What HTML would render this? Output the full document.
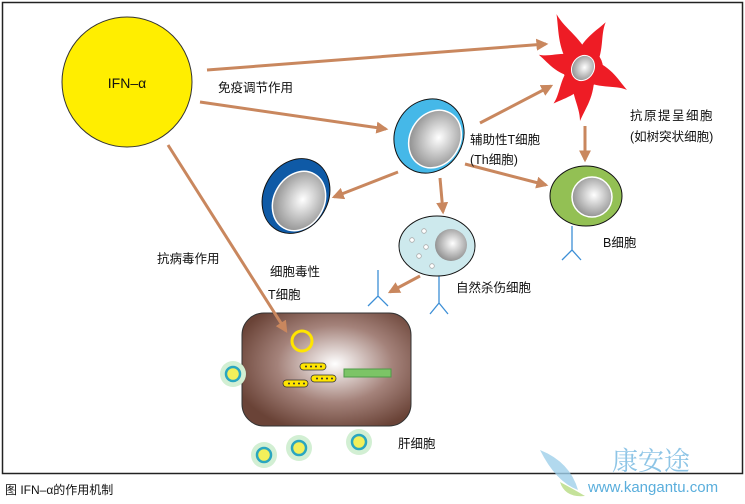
<!DOCTYPE html>
<html><head><meta charset="utf-8"><style>
body{margin:0;background:#fff;width:745px;height:499px;overflow:hidden}
text{font-family:"Liberation Sans","Noto Sans CJK SC",sans-serif;font-size:12.5px;fill:#111}
</style></head><body>
<svg width="745" height="499" viewBox="0 0 745 499">
<defs>
<radialGradient id="nuc" cx="0.55" cy="0.45" r="0.6"><stop offset="0" stop-color="#fff"/><stop offset="1" stop-color="#8a8a8a"/></radialGradient>
<radialGradient id="liv" cx="0.55" cy="0.45" r="0.62"><stop offset="0" stop-color="#fff"/><stop offset="0.55" stop-color="#a4827a"/><stop offset="1" stop-color="#6a4337"/></radialGradient>
<marker id="ah" viewBox="0 0 10 10" refX="8" refY="5" markerWidth="4" markerHeight="4" orient="auto"><path d="M0,0L10,5L0,10z" fill="#c9875e"/></marker>
</defs>
<rect x="2.5" y="2.5" width="740" height="471" fill="none" stroke="#222" stroke-width="1.5"/>
<g stroke="#c9875e" stroke-width="3" fill="none" marker-end="url(#ah)">
<line x1="207" y1="70" x2="546" y2="44"/>
<line x1="200" y1="102" x2="386" y2="129"/>
<line x1="398" y1="172" x2="334" y2="197"/>
<line x1="480" y1="123" x2="551" y2="86"/>
<line x1="585" y1="126" x2="585" y2="160"/>
<line x1="465" y1="164" x2="546" y2="185"/>
<line x1="440" y1="178" x2="443" y2="212"/>
<line x1="420" y1="276" x2="390" y2="292"/>
</g>
<circle cx="127" cy="82" r="65" fill="#ffee00" stroke="#333" stroke-width="1"/>
<text x="127" y="88" text-anchor="middle" style="font-size:14px">IFN–α</text>
<!-- Th -->
<ellipse cx="429" cy="136" rx="34" ry="38" transform="rotate(30 429 136)" fill="#45b8e8" stroke="#111"/>
<ellipse cx="435" cy="139" rx="25" ry="30" transform="rotate(30 435 139)" fill="url(#nuc)" stroke="#fff" stroke-width="1.5"/>
<!-- CTL -->
<ellipse cx="296" cy="196" rx="32" ry="39" transform="rotate(30 296 196)" fill="#0f5aa6" stroke="#111"/>
<ellipse cx="299" cy="201" rx="25" ry="31" transform="rotate(30 299 201)" fill="url(#nuc)" stroke="#fff" stroke-width="1.5"/>
<!-- star -->
<g transform="translate(583,68)" fill="#ee1c25">
<circle r="20"/>
<path transform="rotate(-29)" d="M-11,0 C-13,-30 -4,-42 3,-60 C3,-42 14,-28 11,0Z"/>
<path transform="rotate(23)" d="M-11,0 C-13,-26 -4,-36 3,-51 C3,-36 14,-24 11,0Z"/>
<path transform="rotate(113)" d="M-11,0 C-13,-25 -4,-35 3,-49 C3,-35 14,-23 11,0Z"/>
<path transform="rotate(180)" d="M-11,0 C-13,-27 -4,-37 3,-53 C3,-37 14,-25 11,0Z"/>
<path transform="rotate(216)" d="M-11,0 C-13,-24 -4,-33 3,-46 C3,-33 14,-22 11,0Z"/>
<path transform="rotate(-77)" d="M-11,0 C-13,-24 -4,-33 3,-46 C3,-33 14,-22 11,0Z"/>
<ellipse cx="0" cy="0" rx="11" ry="13" transform="rotate(30)" fill="url(#nuc)" stroke="#fff"/>
</g>
<!-- B -->
<ellipse cx="586" cy="196" rx="36" ry="30" fill="#93c054" stroke="#111"/>
<circle cx="592" cy="197" r="20" fill="url(#nuc)" stroke="#fff" stroke-width="1.5"/>
<g stroke="#3d8fd6" stroke-width="1.3" fill="none">
<path d="M572,226V250M562,260L572,250L581,260"/>
<path d="M439,273V303M430,314L439,303L448,314"/>
<path d="M378,270V296M368,306L378,296L388,306"/>
</g>
<!-- NK -->
<ellipse cx="437" cy="246" rx="38" ry="30" fill="#cde9ed" stroke="#111"/>
<circle cx="451" cy="245" r="16" fill="url(#nuc)"/>
<g fill="#fff" stroke="#aaa" stroke-width="0.8">
<circle cx="424" cy="231" r="2.3"/><circle cx="412" cy="240" r="2.3"/><circle cx="426" cy="247" r="2.3"/><circle cx="419" cy="256" r="2.3"/><circle cx="432" cy="266" r="2.3"/>
</g>
<!-- liver -->
<rect x="242" y="313" width="169" height="113" rx="22" fill="url(#liv)" stroke="#333"/>
<line x1="168" y1="145" x2="286" y2="331" stroke="#c9875e" stroke-width="3" marker-end="url(#ah)"/>
<circle cx="302" cy="341" r="10" fill="none" stroke="#ffe500" stroke-width="3"/>
<g fill="#ffe500" stroke="#333" stroke-width="0.8">
<rect x="300" y="363" width="26" height="7" rx="3.5"/><rect x="311" y="375" width="25" height="7" rx="3.5"/><rect x="283" y="380" width="25" height="7" rx="3.5"/>
</g>
<g fill="#333"><circle cx="306" cy="366.5" r="1"/><circle cx="311" cy="366.5" r="1"/><circle cx="316" cy="366.5" r="1"/><circle cx="321" cy="366.5" r="1"/>
<circle cx="317" cy="378.5" r="1"/><circle cx="322" cy="378.5" r="1"/><circle cx="327" cy="378.5" r="1"/><circle cx="332" cy="378.5" r="1"/>
<circle cx="289" cy="383.5" r="1"/><circle cx="294" cy="383.5" r="1"/><circle cx="299" cy="383.5" r="1"/><circle cx="304" cy="383.5" r="1"/></g>
<rect x="344" y="369" width="47" height="8" fill="#7cc466" stroke="#4e9a48"/>
<g>
<circle cx="233" cy="374" r="13" fill="#d2efd3"/><circle cx="233" cy="374" r="7" fill="#f2f05a" stroke="#2aa6c0" stroke-width="2.5"/>
<circle cx="264" cy="455" r="13" fill="#d2efd3"/><circle cx="264" cy="455" r="7" fill="#f2f05a" stroke="#2aa6c0" stroke-width="2.5"/>
<circle cx="299" cy="448" r="13" fill="#d2efd3"/><circle cx="299" cy="448" r="7" fill="#f2f05a" stroke="#2aa6c0" stroke-width="2.5"/>
<circle cx="359" cy="442" r="13" fill="#d2efd3"/><circle cx="359" cy="442" r="7" fill="#f2f05a" stroke="#2aa6c0" stroke-width="2.5"/>
</g>
<text x="218" y="92">免疫调节作用</text>
<text x="470" y="144">辅助性T细胞</text>
<text x="470" y="164">(Th细胞)</text>
<text x="630" y="120" letter-spacing="1.5">抗原提呈细胞</text>
<text x="630" y="141">(如树突状细胞)</text>
<text x="603" y="247">B细胞</text>
<text x="456" y="292">自然杀伤细胞</text>
<text x="270" y="276">细胞毒性</text>
<text x="268" y="299">T细胞</text>
<text x="157" y="263">抗病毒作用</text>
<text x="398" y="448">肝细胞</text>
<text x="5" y="494" style="font-size:12px">图 IFN–α的作用机制</text>
<path d="M540,450 Q570,462 578,490 Q556,482 540,450z" fill="#9fd0ea" opacity="0.8"/>
<path d="M560,482 Q575,490 585,496 Q565,498 560,482z" fill="#c5e29a"/>
<text x="612" y="470" style="font-size:26px;fill:#8ec5e6;font-family:'Liberation Serif','Noto Serif CJK SC',serif">康安途</text>
<text x="588" y="492" style="font-size:15px;fill:#5aaedc">www.kangantu.com</text>
</svg>
</body></html>
